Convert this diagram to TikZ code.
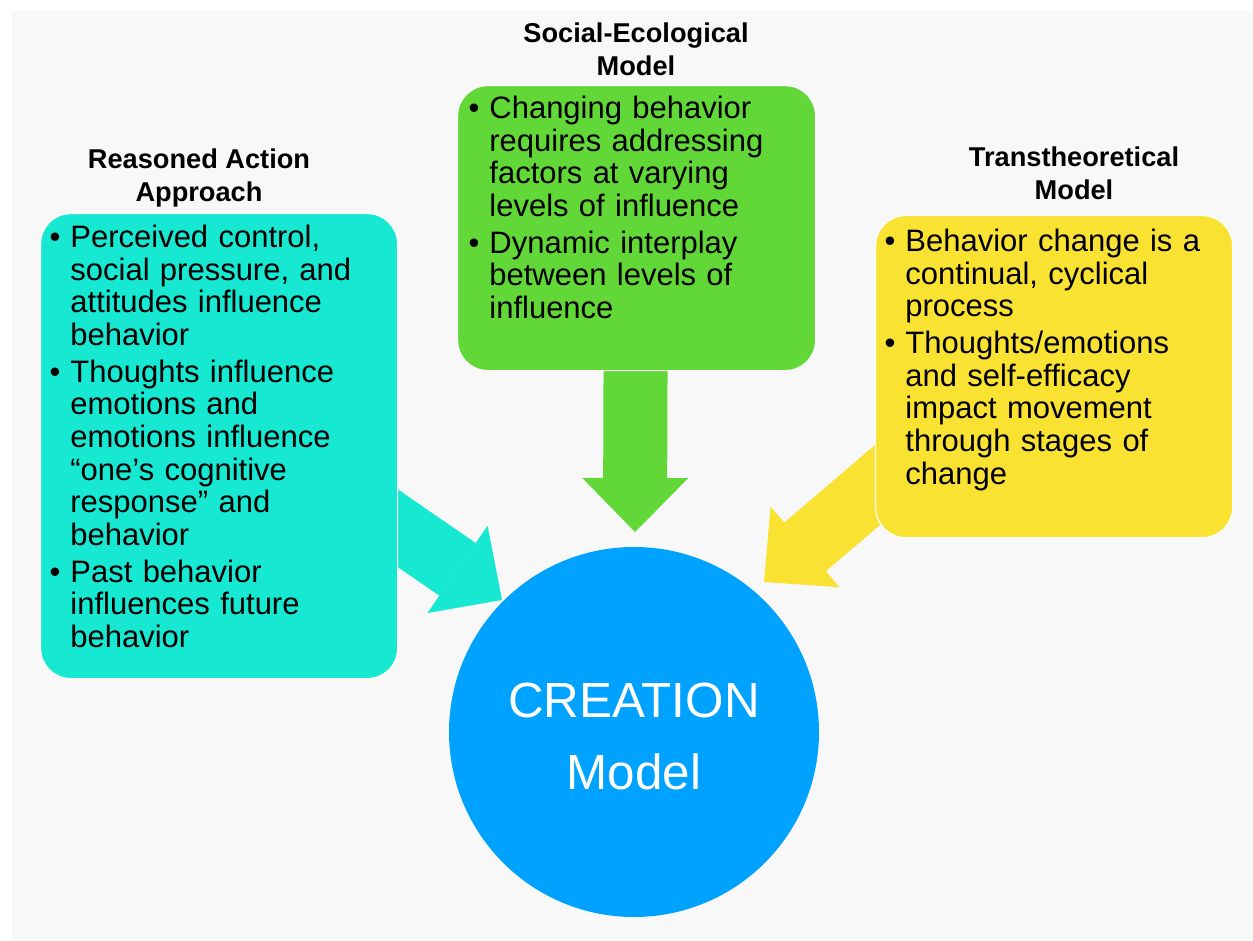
\documentclass[tikz,border=0pt]{standalone}
\usepackage{fontspec}
\setmainfont{Liberation Sans}
\usetikzlibrary{positioning,arrows.meta,backgrounds}
\definecolor{raacol}{HTML}{17E8D2}
\definecolor{semcol}{HTML}{62D838}
\definecolor{ttmcol}{HTML}{F9E232}
\definecolor{creationcol}{HTML}{00A2FF}
\definecolor{bgcol}{HTML}{F8F8F8}
\tikzstyle{block} = [rectangle, draw=white, line width=0.6pt, rounded corners=15pt,
 anchor=north west, inner sep=0pt]
\tikzstyle{heading} = [align=center, anchor=base, inner sep=0pt,
 font=\bfseries\fontsize{13.6}{16.5}\selectfont]
\tikzstyle{body} = [anchor=base west, inner sep=0pt, text width=172pt,
 font=\fontsize{15.5}{16.3}\selectfont]
\tikzstyle{fat} = [line width=32pt, -{Triangle[length=27pt,width=53pt,line width=0pt]}]
\newenvironment{points}{\begin{list}{\textbullet}{\setlength{\leftmargin}{10.5pt}%
 \setlength{\labelwidth}{5.5pt}\setlength{\labelsep}{5pt}\setlength{\itemsep}{2.2pt}%
 \setlength{\parsep}{0pt}\setlength{\topsep}{0pt}\setlength{\partopsep}{0pt}}\raggedright}%
 {\end{list}}

\begin{document}
\begin{tikzpicture}[x=0.5pt, y=-0.5pt]
\useasboundingbox (0,0) rectangle (1253,941);

% the three models
\node[block, fill=raacol, minimum width=178.5pt, minimum height=232.5pt] (raa) at (40,213) {};
\node[block, fill=semcol, minimum width=179pt, minimum height=142.5pt] (sem) at (457,85) {};
\node[block, fill=ttmcol, minimum width=178.5pt, minimum height=161pt] (ttm) at (875,215) {};

\node[heading] (raatitle) at (199,202) {Reasoned Action\\Approach};
\node[heading] (semtitle) at (636,76) {Social-Ecological\\Model};
\node[heading] (ttmtitle) at (1074,200) {Transtheoretical\\Model};

\node[body] (raatext) at ([shift={(9,2)}]raa.north west) {\begin{points}
\item Perceived control,\newline social pressure, and\newline attitudes influence\newline behavior
\item Thoughts influence\newline emotions and\newline emotions influence\newline “one’s cognitive\newline response” and\newline behavior
\item Past behavior\newline influences future\newline behavior
\end{points}};

\node[body] (semtext) at ([shift={(11,1)}]sem.north west) {\begin{points}
\item Changing behavior\newline requires addressing\newline factors at varying\newline levels of influence
\item Dynamic interplay\newline between levels of\newline influence
\end{points}};

\node[body] (ttmtext) at ([shift={(9,4)}]ttm.north west) {\begin{points}
\item Behavior change is a\newline continual, cyclical\newline process
\item Thoughts/emotions\newline and self-efficacy\newline impact movement\newline through stages of\newline change
\end{points}};

% center
\node[circle, fill=creationcol, minimum size=185pt, inner sep=0pt, align=center,
 text=white, font=\fontsize{24.7}{36}\selectfont] (creation) at (634,732)
 {\rule{0pt}{21.7pt}CREATION\\Model};

% arrows behind the boxes
\begin{scope}[on background layer]
\fill[white] (0,0) rectangle (1253,941);
\fill[bgcol] (12,11) rectangle (1253,941);
\coordinate (raatip) at (502,600);
\coordinate (semtip) at (635,532);
\coordinate (ttmtip) at (764,582);
\draw[fat, color=raacol] ([shift={(-37.5,56.5)}]raa.east) -- (raatip);
\draw[fat, color=semcol] ([shift={(-1,-20)}]sem.south) -- (semtip);
\draw[fat, color=ttmcol] ([shift={(42,-87)}]ttm.south west) -- (ttmtip);
\end{scope}

\end{tikzpicture}
\end{document}
